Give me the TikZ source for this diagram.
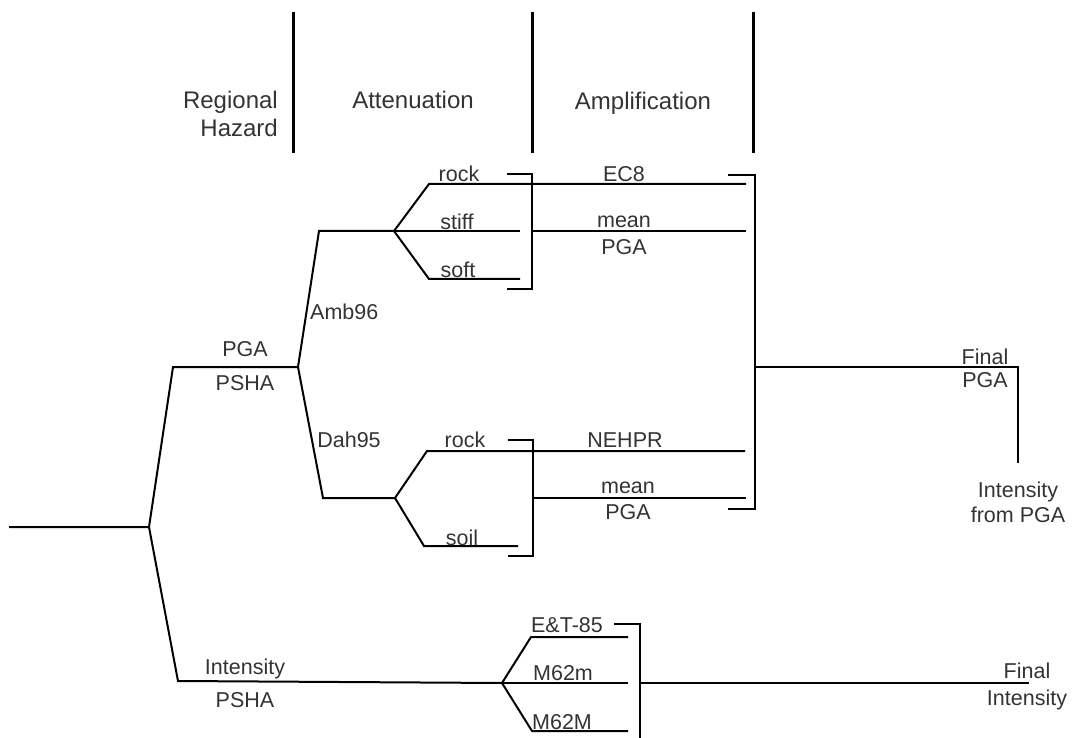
\documentclass[tikz,border=0pt]{standalone}
\usepackage{fontspec}
\setmainfont{Liberation Sans}
\usepackage{xcolor}
\usepackage{tikz}
\usetikzlibrary{positioning}
\definecolor{ink}{HTML}{333333}
\tikzset{
  lbl/.style={font=\fontsize{21.5}{25}\selectfont, text=ink, inner sep=0pt},
  hdr/.style={font=\fontsize{24}{28}\selectfont, text=ink, inner sep=0pt, align=right},
  branch/.style={line width=2pt, black},
  divider/.style={line width=3pt, black},
}

\begin{document}
\begin{tikzpicture}[x=1pt, y=-1pt]
\useasboundingbox (0,0) rectangle (1074,738);
% column headings
\foreach \x in {293,532,753} \draw[divider] (\x,12) -- (\x,153);
\node[hdr, anchor=east] (regional) at (278,114) {Regional\\Hazard};
\node[hdr] (atten) at (413,100) {Attenuation};
\node[hdr] (ampl) at (643,103) {Amplification};
% fork points
\coordinate (root) at (9,527);      \coordinate (rootfork) at (149,527);
\coordinate (pga0) at (173,367);    \coordinate (pgafork) at (298,367);
\coordinate (int0) at (178,681);    \coordinate (intfork) at (502,683);
\coordinate (amb0) at (319,231);    \coordinate (ambfork) at (394,231);
\coordinate (dah0) at (323,498);    \coordinate (dahfork) at (395,498);
% regional hazard
\draw[branch] (root) -- (rootfork) -- (pga0) -- (pgafork);
\draw[branch] (rootfork) -- (int0) -- (intfork);
\node[lbl] (pga) at (245,349) {PGA};
\node[lbl] (pgapsha) at (245,383) {PSHA};
\node[lbl] (int) at (245,669) {Intensity};
\node[lbl] (intpsha) at (245,700) {PSHA};
% attenuation, Amb96
\draw[branch] (pgafork) -- (amb0) -- (ambfork);
\draw[branch] (pgafork) -- (dah0) -- (dahfork);
\node[lbl, anchor=west] (amb) at (310,312) {Amb96};
\node[lbl] (dah) at (349,440) {Dah95};
\draw[branch] (ambfork) -- (429,184) -- (746,184);
\draw[branch] (ambfork) -- (520,231);
\draw[branch] (ambfork) -- (429,279) -- (520,279);
\node[lbl] (arock) at (459,174) {rock};
\node[lbl] (astiff) at (457,222) {stiff};
\node[lbl] (asoft) at (458,270) {soft};
\draw[branch] (507,174) -- (532,174) -- (532,289) -- (507,289);
\draw[branch] (532,231) -- (746,231);
\node[lbl] (ec8) at (624,174) {EC8};
\node[lbl] (ameanup) at (624,222) {mean};
\node[lbl] (ameandn) at (624,247) {PGA};
% attenuation, Dah95
\draw[branch] (dahfork) -- (427,451) -- (745,451);
\draw[branch] (dahfork) -- (424,546) -- (518,546);
\node[lbl] (drock) at (465,440) {rock};
\node[lbl] (dsoil) at (462,538) {soil};
\draw[branch] (508,440) -- (533,440) -- (533,556) -- (508,556);
\draw[branch] (533,498) -- (746,498);
\node[lbl] (nehpr) at (625,440) {NEHPR};
\node[lbl] (dmeanup) at (628,488) {mean};
\node[lbl] (dmeandn) at (628,512) {PGA};
% amplification
\draw[branch] (728,175) -- (755,175) -- (755,509) -- (728,509);
\draw[branch] (755,367) -- (1018,367) -- (1018,463);
\node[lbl] (finalpga) at (985,357) {Final};
\node[lbl] (finalpgab) at (985,380) {PGA};
\node[lbl, align=center] (intpga) at (1018,502) {Intensity\\from PGA};
% intensity branch
\draw[branch] (intfork) -- (531,637) -- (628,637);
\draw[branch] (intfork) -- (628,683);
\draw[branch] (intfork) -- (532,731) -- (628,731);
\node[lbl] (et85) at (567,625) {E\&T-85};
\node[lbl] (m62m) at (563,673) {M62m};
\node[lbl] (m62big) at (562,722) {M62M};
\draw[branch] (614,624) -- (640,624) -- (640,745);
\draw[branch] (640,683) -- (1029,683);
\node[lbl] (finalint) at (1027,671) {Final};
\node[lbl] (finalintb) at (1027,700) {Intensity};
\end{tikzpicture}
\end{document}
